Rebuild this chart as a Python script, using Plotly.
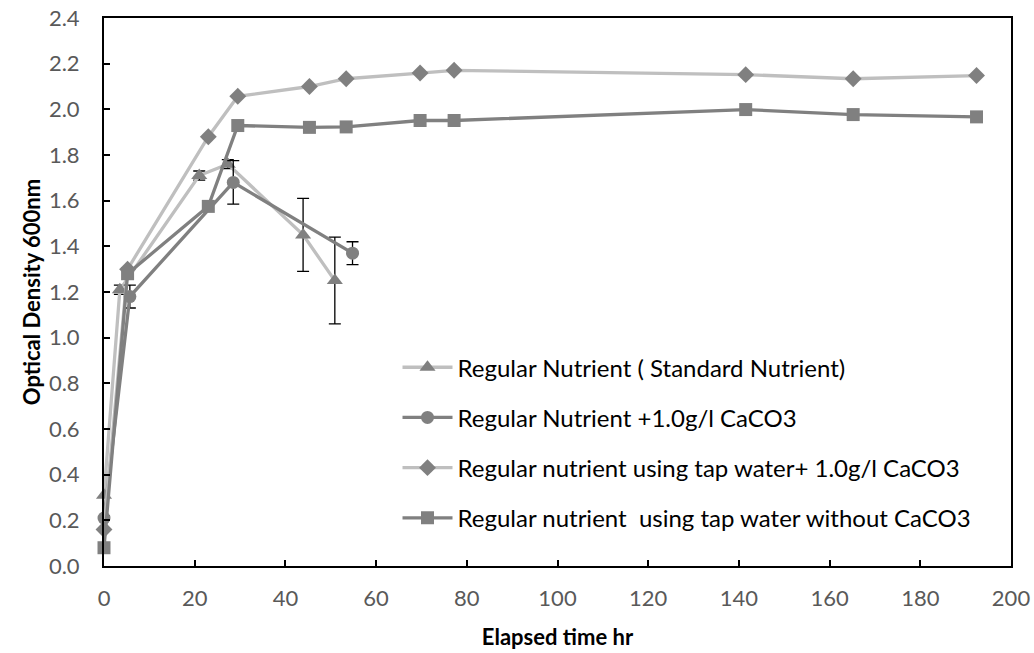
import plotly.graph_objects as go

# ---- data ----
t_std = [0, 3.5, 21.0, 27.3, 43.9, 50.9]
od_std = [0.31, 1.21, 1.71, 1.76, 1.45, 1.25]
err_std = [0.0, 0.02, 0.02, 0.02, 0.16, 0.19]

t_caco3 = [0, 5.7, 28.5, 54.8]
od_caco3 = [0.21, 1.18, 1.68, 1.37]
err_caco3 = [0.01, 0.05, 0.095, 0.05]

t_tap = [0, 5.2, 23.0, 29.5, 45.3, 53.4, 69.7, 77.2, 141.5, 165.2, 192.4]
od_tap_caco3 = [0.16, 1.30, 1.88, 2.057, 2.10, 2.134, 2.159, 2.171, 2.152, 2.134, 2.148]
od_tap = [0.08, 1.28, 1.575, 1.929, 1.921, 1.923, 1.951, 1.951, 1.999, 1.977, 1.967]

names = [
    "Regular Nutrient ( Standard Nutrient)",
    "Regular Nutrient +1.0g/l CaCO3",
    "Regular nutrient using tap water+ 1.0g/l CaCO3",
    "Regular nutrient  using tap water without CaCO3",
]

x_ticks = [0, 20, 40, 60, 80, 100, 120, 140, 160, 180, 200]
y_ticks = [0.0, 0.2, 0.4, 0.6, 0.8, 1.0, 1.2, 1.4, 1.6, 1.8, 2.0, 2.2, 2.4]

LIGHT = "#BFBFBF"
DARK = "#808080"
MARK = "#808080"
FONT = "Lato"

fig = go.Figure()

def err(vals):
    return dict(type="data", array=vals, visible=True, color="black", thickness=1.3, width=6)

fig.add_trace(go.Scatter(
    x=t_std, y=od_std, name=names[0], mode="lines+markers", legendgroup="a",
    line=dict(color=LIGHT, width=3.3), cliponaxis=False,
    marker=dict(symbol="triangle-up", size=14, color=MARK),
    error_y=err(err_std)))
fig.add_trace(go.Scatter(
    x=t_caco3, y=od_caco3, name=names[1], mode="lines+markers", legendgroup="b",
    line=dict(color=DARK, width=3.3), cliponaxis=False,
    marker=dict(symbol="circle", size=13, color=MARK),
    error_y=err(err_caco3)))
fig.add_trace(go.Scatter(
    x=t_tap, y=od_tap_caco3, name=names[2], mode="lines+markers", legendgroup="c",
    line=dict(color=LIGHT, width=3.3), cliponaxis=False,
    marker=dict(symbol="diamond", size=13, color=MARK)))
fig.add_trace(go.Scatter(
    x=t_tap, y=od_tap, name=names[3], mode="lines+markers", legendgroup="d",
    line=dict(color=DARK, width=3.3), cliponaxis=False,
    marker=dict(symbol="square", size=13, color=MARK)))

fig.update_layout(
    width=1034, height=653,
    margin=dict(l=104, r=23, t=18, b=87, autoexpand=False),
    paper_bgcolor="white", plot_bgcolor="white",
    font=dict(family=FONT, size=22, color="black"),
    showlegend=True,
    legend=dict(
        x=0.3236, y=0.403, xanchor="left", yanchor="top",
        bgcolor="rgba(0,0,0,0)", borderwidth=0,
        font=dict(family=FONT, size=24, color="black"),
        tracegroupgap=16, itemwidth=50,
    ),
)

fig.update_xaxes(
    range=[0, 200], tickvals=x_ticks, ticktext=[str(v) for v in x_ticks],
    showgrid=False, zeroline=False,
    showline=True, linecolor="black", linewidth=2, mirror=True,
    ticks="inside", ticklen=6, tickwidth=2, tickcolor="black",
    tickfont=dict(family=FONT, size=22, color="#595959"),
    ticklabelstandoff=12,
    title=dict(text="<b>Elapsed time hr</b>", font=dict(family=FONT, size=22, color="black"), standoff=19),
    automargin=False,
)
fig.update_yaxes(
    range=[0, 2.4], tickvals=y_ticks, ticktext=[f"{v:.1f}" for v in y_ticks],
    showgrid=False, zeroline=False,
    showline=True, linecolor="black", linewidth=2, mirror=True,
    ticks="inside", ticklen=6, tickwidth=2, tickcolor="black",
    tickfont=dict(family=FONT, size=22, color="#595959"),
    ticklabelstandoff=18,
    title=dict(text="<b>Optical Density 600nm</b>", font=dict(family=FONT, size=22, color="black"), standoff=2),
    automargin=False,
)

fig.write_html("out.html")
